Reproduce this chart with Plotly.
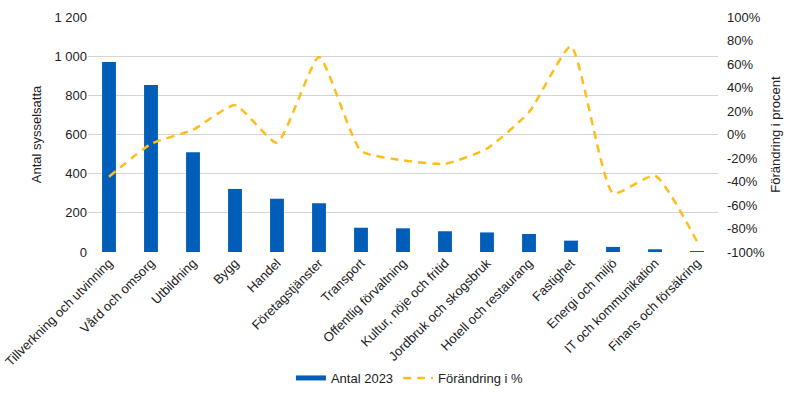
import plotly.graph_objects as go

categories = ["Tillverkning och utvinning", "Vård och omsorg", "Utbildning", "Bygg", "Handel",
              "Företagstjänster", "Transport", "Offentlig förvaltning", "Kultur, nöje och fritid",
              "Jordbruk och skogsbruk", "Hotell och restaurang", "Fastighet", "Energi och miljö",
              "IT och kommunikation", "Finans och försäkring"]
antal_2023 = [970, 853, 510, 322, 272, 249, 124, 121, 106, 100, 92, 58, 26, 14, 2]
forandring_pct = [-36, -8, 4, 25, -7, 66, -14, -22, -25, -12, 19, 75, -50, -35, -91]

left_ticks = [0, 200, 400, 600, 800, 1000, 1200]
left_ticktext = ["0", "200", "400", "600", "800", "1 000", "1 200"]
right_ticks = list(range(-100, 101, 20))
right_ticktext = [f"{v}%" for v in right_ticks]

font_family = "Liberation Sans, Arial, sans-serif"
bar_color = "#005EB8"
line_color = "#FDBE1B"

fig = go.Figure()
fig.add_trace(go.Bar(x=categories, y=antal_2023, name="Antal 2023", showlegend=False,
                     marker=dict(color=bar_color, line=dict(width=0)), width=0.33, yaxis="y"))
fig.add_trace(go.Scatter(x=categories, y=forandring_pct, name="Förändring i %", mode="lines",
                         showlegend=False,
                         line=dict(color=line_color, width=2.5, dash="8px,6px", shape="spline", smoothing=0.5),
                         yaxis="y2"))
# legend entries
fig.add_trace(go.Scatter(x=[None], y=[None], name="Antal 2023", mode="lines",
                         line=dict(color=bar_color, width=5), yaxis="y"))
fig.add_trace(go.Scatter(x=[None], y=[None], name="Förändring i %", mode="lines",
                         line=dict(color=line_color, width=2.5, dash="8px,6px"), yaxis="y2"))

fig.update_layout(
    width=800, height=394,
    margin=dict(l=88, r=82, t=17, b=142),
    paper_bgcolor="white", plot_bgcolor="white",
    font=dict(family=font_family, size=13, color="#222222"),
    xaxis=dict(tickangle=-45, showgrid=False, showline=False, ticks="", tickfont=dict(size=13),
               automargin=False),
    yaxis=dict(range=[0, 1200], tickvals=left_ticks, ticktext=left_ticktext, showgrid=True,
               gridcolor="#d4d4d4", gridwidth=1, zeroline=False, ticks="", automargin=False,
               title=dict(text="Antal sysselsatta", font=dict(size=13), standoff=9)),
    yaxis2=dict(range=[-100, 100], tickvals=right_ticks, ticktext=right_ticktext, overlaying="y",
                side="right", showgrid=False, zeroline=False, automargin=False,
                ticklabelstandoff=8,
                title=dict(text="Förändring i procent", font=dict(size=13), standoff=6)),
    legend=dict(orientation="h", x=0.511, xanchor="center", xref="paper",
                y=1 - 378 / 394, yanchor="middle", yref="container",
                font=dict(size=13), traceorder="normal"),
)

fig.write_html("out.html")
